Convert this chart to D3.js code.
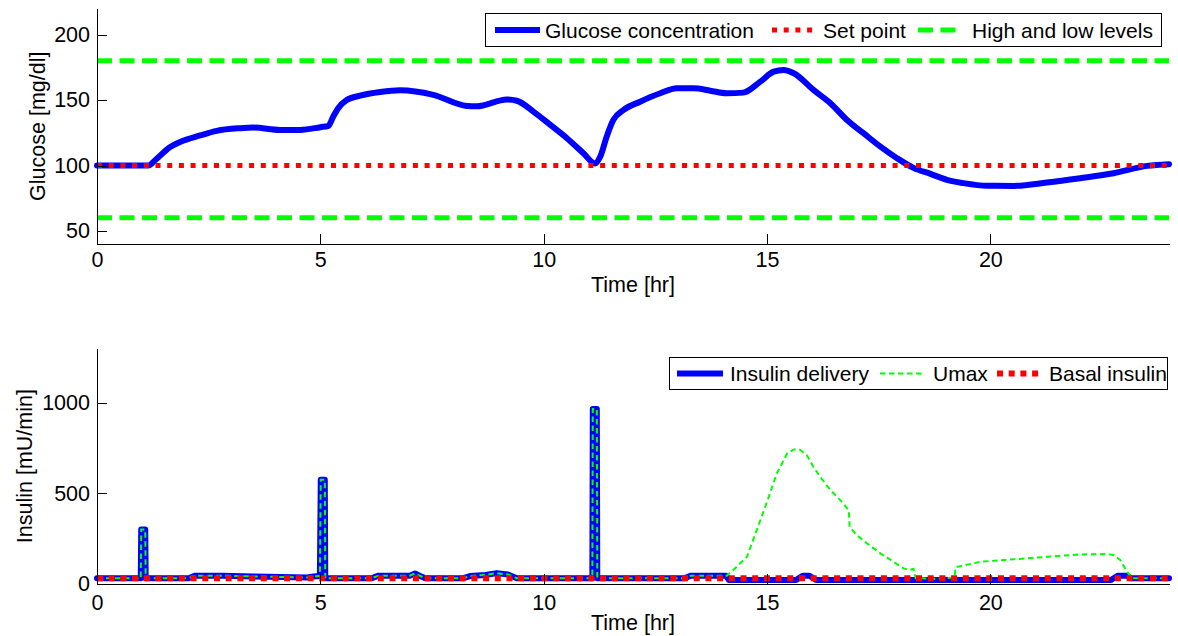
<!DOCTYPE html>
<html>
<head>
<meta charset="utf-8">
<script src="https://cdn.jsdelivr.net/npm/d3@7"></script>
<style>
  body { margin: 0; background: #fff; }
  svg text { font-family: "Liberation Sans", Arial, Helvetica, sans-serif; font-size: 21.5px; fill: #000; }
  svg text.legend { font-size: 21px; }
  .axis path, .axis line { stroke: #000; stroke-width: 1; shape-rendering: crispEdges; }
</style>
</head>
<body>
<div class="chart"></div>
<script>
var svgWidth = 1178;
var svgHeight = 636;

// ---- data ----
var timeTicks = [0, 5, 10, 15, 20];
var glucoseTicks = [50, 100, 150, 200];
var insulinTicks = [0, 500, 1000];

var glucoseHours = [0, 1.15, 1.3, 1.63, 1.86, 2.31, 2.68, 3.2, 3.5, 4.1, 4.55, 5.0, 5.18, 5.29, 5.4, 5.59, 5.89, 6.34, 6.79,
  7.53, 8.28, 8.5, 9.18, 9.4, 9.77, 10.15, 10.52, 10.89, 11.15, 11.27, 11.41, 11.56, 11.79, 12.16, 12.61, 12.98, 13.36,
  13.73, 14.1, 14.47, 14.85, 15.15, 15.37, 15.6, 16.04, 16.42, 16.79, 17.16, 17.54, 17.91, 18.29, 18.66, 19.03, 19.4,
  19.93, 20.52, 21.27, 22.01, 22.76, 23.51, 24];
var glucoseLevel = [100, 100, 104, 114, 118, 123, 126.5, 128.5, 129, 127.2, 127.2, 129.3, 130.3, 137.5, 143.8, 150, 153.4, 156.2, 157.5,
  154, 145.5, 145.2, 150.5, 149.5, 141.2, 131, 120.9, 109.4, 101.5, 107, 122, 134.8, 142.5, 148.8, 155.2, 159, 159,
  157.2, 155.2, 155.7, 164.1, 171.7, 173, 170.5, 157.8, 147.6, 134.8, 124.7, 114.4, 105.6, 98, 93.6, 89, 86.5,
  84.5, 84.4, 87, 90.3, 94.1, 99.7, 101];
var setPoint = 100;
var glucoseLimits = [60, 180];

var insulinHours = [0, 0.98, 0.99, 1.08, 1.09, 2.05, 2.2, 2.8, 3.5, 4.7, 4.85, 4.99, 5.01, 5.1, 5.11, 6.15, 6.3, 7.0, 7.12,
  7.22, 7.35, 8.2, 8.35, 8.7, 8.95, 9.2, 9.4, 11.09, 11.1, 11.19, 11.2, 13.15, 13.3, 14.08, 14.15, 15.65, 15.8,
  15.95, 16.1, 22.7, 22.85, 23.05, 23.15, 24];
var insulinRate = [32, 32, 300, 300, 32, 32, 46, 46, 42, 36, 42, 44, 575, 575, 32, 32, 46, 46, 58,
  46, 32, 32, 44, 50, 60, 52, 32, 32, 965, 965, 32, 32, 46, 46, 22, 22, 46,
  46, 22, 22, 46, 46, 32, 32];

var umaxHours = [0, 0.98, 0.99, 1.08, 1.09, 2.05, 2.2, 2.8, 3.5, 4.7, 4.85, 4.99, 5.01, 5.1, 5.11, 6.15, 6.3, 7.0, 7.12,
  7.22, 7.35, 8.2, 8.35, 8.7, 8.95, 9.2, 9.4, 11.09, 11.1, 11.19, 11.2, 13.15, 13.3, 14.1, 14.3, 14.55, 14.77,
  15.0, 15.22, 15.45, 15.6, 15.74, 15.89, 16.04, 16.19, 16.42, 16.64, 16.83, 16.85, 17.01, 17.24, 17.54, 17.83,
  18.06, 18.2, 18.28, 18.33, 18.8, 19.07, 19.2, 19.22, 19.78, 20.52, 21.27, 22.02, 22.6, 22.76, 22.91, 23.06, 23.17, 24];
var umaxRate = [32, 32, 300, 300, 32, 32, 46, 46, 42, 36, 42, 44, 575, 575, 32, 32, 46, 46, 58,
  46, 32, 32, 44, 50, 60, 52, 32, 32, 965, 965, 32, 32, 46, 46, 90, 150, 297,
  453, 610, 720, 742, 740, 711, 646, 591, 518, 463, 408, 316, 270, 224, 169, 123,
  86, 78, 84, 32, 28, 33, 38, 92, 123, 136, 150, 163, 165, 160, 132, 68, 32, 32];
var basalRate = 32;

// ---- layout ----
var svg = d3.select(".chart")
  .append("svg")
  .attr("width", svgWidth)
  .attr("height", svgHeight);

var xScale = d3.scaleLinear().domain([0, 24]).range([97, 1169]);
var yGlucose = d3.scaleLinear().domain([40, 220]).range([244, 8.5]);
var yInsulin = d3.scaleLinear().domain([0, 1300]).range([584, 348.3]);

function drawAxes(yScale, yTicks, labelPad, yLabel, yLabelX, timeLabelY) {
  var y0 = yScale.range()[0];

  svg.append("g")
    .attr("class", "axis")
    .attr("transform", `translate(0, ${y0})`)
    .call(d3.axisBottom(xScale).tickValues(timeTicks).tickFormat(d3.format("d"))
      .tickSizeInner(-10).tickSizeOuter(0).tickPadding(labelPad));

  svg.append("g")
    .attr("class", "axis")
    .attr("transform", `translate(${xScale(0)}, 0)`)
    .call(d3.axisLeft(yScale).tickValues(yTicks).tickFormat(d3.format("d"))
      .tickSizeInner(-10).tickSizeOuter(0).tickPadding(7));

  // let the stylesheet font apply to tick labels
  svg.selectAll(".axis").attr("font-size", null).attr("font-family", null);

  svg.append("text")
    .attr("x", (xScale.range()[0] + xScale.range()[1]) / 2)
    .attr("y", timeLabelY)
    .attr("text-anchor", "middle")
    .text("Time [hr]");

  var yMid = (yScale.range()[0] + yScale.range()[1]) / 2;
  svg.append("text")
    .attr("transform", `translate(${yLabelX}, ${yMid}) rotate(-90)`)
    .attr("text-anchor", "middle")
    .text(yLabel);
}

function drawLegend(box, items) {
  var lg = svg.append("g");
  lg.append("rect")
    .attr("x", box.x).attr("y", box.y)
    .attr("width", box.w).attr("height", box.h)
    .attr("fill", "#fff").attr("stroke", "#000").attr("stroke-width", 1)
    .attr("shape-rendering", "crispEdges");
  var cy = box.y + box.h / 2;
  items.forEach(function(d) {
    lg.append("line")
      .attr("x1", d.x1).attr("x2", d.x2)
      .attr("y1", cy).attr("y2", cy)
      .attr("stroke", d.color)
      .attr("stroke-width", d.width)
      .attr("stroke-dasharray", d.dash || null);
    lg.append("text")
      .attr("class", "legend")
      .attr("x", d.tx)
      .attr("y", cy + 7.5)
      .text(d.label);
  });
}

function hLine(yScale, value, color, width, dash) {
  svg.append("line")
    .attr("x1", xScale(0)).attr("x2", xScale(24))
    .attr("y1", yScale(value)).attr("y2", yScale(value))
    .attr("stroke", color)
    .attr("stroke-width", width)
    .attr("stroke-dasharray", dash);
}

// ---- top panel: glucose ----
var glucoseLine = d3.line()
  .x(i => xScale(glucoseHours[i]))
  .y(i => yGlucose(glucoseLevel[i]))
  .curve(d3.curveMonotoneX);

svg.append("path")
  .attr("d", glucoseLine(d3.range(glucoseHours.length)))
  .attr("fill", "none")
  .attr("stroke", "#0000ff")
  .attr("stroke-width", 6)
  .attr("stroke-linejoin", "round")
  .attr("stroke-linecap", "round");

hLine(yGlucose, setPoint, "#ff0000", 5, "5 6.7");
glucoseLimits.forEach(v => hLine(yGlucose, v, "#00ff00", 5, "15 7.5"));

drawAxes(yGlucose, glucoseTicks, 8, "Glucose [mg/dl]", 45, 292);

drawLegend({x: 485.5, y: 13.5, w: 676, h: 33}, [
  {label: "Glucose concentration", color: "#0000ff", width: 6, x1: 495, x2: 540, tx: 545},
  {label: "Set point", color: "#ff0000", width: 5, dash: "5 6.7", x1: 772, x2: 814, tx: 823},
  {label: "High and low levels", color: "#00ff00", width: 5, dash: "15 7.5", x1: 918, x2: 959, tx: 972}
]);

// ---- bottom panel: insulin ----
var insulinLine = d3.line()
  .x(i => xScale(insulinHours[i]))
  .y(i => yInsulin(insulinRate[i]));

var umaxLine = d3.line()
  .x(i => xScale(umaxHours[i]))
  .y(i => yInsulin(umaxRate[i]));

svg.append("path")
  .attr("d", insulinLine(d3.range(insulinHours.length)))
  .attr("fill", "none")
  .attr("stroke", "#0000ff")
  .attr("stroke-width", 6)
  .attr("stroke-linejoin", "round")
  .attr("stroke-linecap", "round");

svg.append("path")
  .attr("d", umaxLine(d3.range(umaxHours.length)))
  .attr("fill", "none")
  .attr("stroke", "#00ff00")
  .attr("stroke-width", 2)
  .attr("stroke-dasharray", "5.5 3.5");

hLine(yInsulin, basalRate, "#ff0000", 6, "6 5.7");

drawAxes(yInsulin, insulinTicks, 11, "Insulin [mU/min]", 31.5, 630);

drawLegend({x: 669.5, y: 357.5, w: 498, h: 32}, [
  {label: "Insulin delivery", color: "#0000ff", width: 6, x1: 677, x2: 723, tx: 730},
  {label: "Umax", color: "#00ff00", width: 2, dash: "5.5 3.5", x1: 880, x2: 925, tx: 933},
  {label: "Basal insulin", color: "#ff0000", width: 6, dash: "6 5.7", x1: 997, x2: 1043, tx: 1049}
]);
</script>
</body>
</html>
